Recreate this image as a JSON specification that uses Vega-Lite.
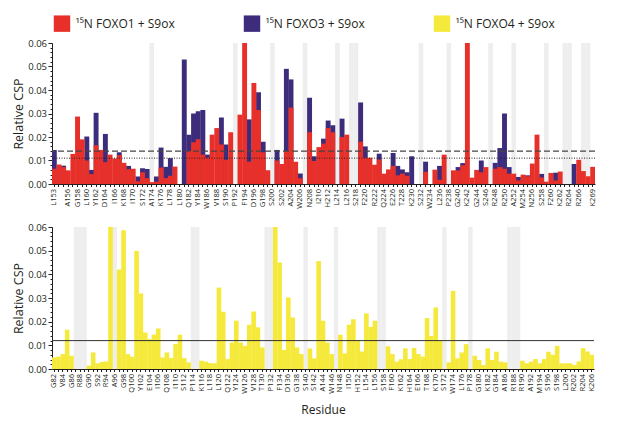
{
  "$schema": "https://vega.github.io/schema/vega-lite/v6.json",
  "padding": {"left": 12, "top": 15, "right": 5, "bottom": 5},
  "spacing": 13,
  "config": {
    "font": "Open Sans",
    "view": {"stroke": null},
    "axis": {
      "labelColor": "#231f20",
      "titleColor": "#231f20",
      "domainColor": "#231f20",
      "tickColor": "#231f20",
      "grid": false,
      "titleFontWeight": "normal"
    }
  },
  "resolve": {"scale": {"color": "independent"}, "legend": {"color": "independent"}},
  "datasets": {
    "foxo13": [
      {"name": "L153", "foxo1": 0.0065, "foxo3": 0.0145},
      {"name": "154", "foxo1": 0.0083, "foxo3": 0},
      {"name": "155", "foxo1": 0.0072, "foxo3": 0.0078},
      {"name": "A156", "foxo1": 0.0058, "foxo3": 0},
      {"name": "157", "foxo1": 0.0128, "foxo3": 0},
      {"name": "G158", "foxo1": 0.0287, "foxo3": 0},
      {"name": "159", "foxo1": 0.019, "foxo3": 0},
      {"name": "L160", "foxo1": 0.010, "foxo3": 0.0202},
      {"name": "161", "foxo1": 0.0042, "foxo3": 0.006},
      {"name": "Y162", "foxo1": 0.0165, "foxo3": 0.0303},
      {"name": "163", "foxo1": 0.0145, "foxo3": 0},
      {"name": "D164", "foxo1": 0.0093, "foxo3": 0.0213},
      {"name": "165", "foxo1": 0.0125, "foxo3": 0},
      {"name": "I166", "foxo1": 0.0108, "foxo3": 0},
      {"name": "167", "foxo1": 0.0123, "foxo3": 0.0135},
      {"name": "K168", "foxo1": 0.009, "foxo3": 0},
      {"name": "169", "foxo1": 0.0063, "foxo3": 0.0077},
      {"name": "I170", "foxo1": 0.0065, "foxo3": 0},
      {"name": "171", "foxo1": 0.0012, "foxo3": 0.0032},
      {"name": "S172", "foxo1": 0.005, "foxo3": 0.0067},
      {"name": "173", "foxo1": 0.0025, "foxo3": 0.0064},
      {"name": "A174", "foxo1": 0.0008, "foxo3": 0, "gap": true},
      {"name": "175", "foxo1": 0.001, "foxo3": 0.0032},
      {"name": "K176", "foxo1": 0.007, "foxo3": 0.0155},
      {"name": "177", "foxo1": 0.0025, "foxo3": 0.0073},
      {"name": "L178", "foxo1": 0.0035, "foxo3": 0.011},
      {"name": "179", "foxo1": 0.0074, "foxo3": 0},
      {"name": "L180", "foxo1": 0, "foxo3": 0},
      {"name": "181", "foxo1": 0, "foxo3": 0.053},
      {"name": "Q182", "foxo1": 0.014, "foxo3": 0.021},
      {"name": "183", "foxo1": 0.0178, "foxo3": 0.030},
      {"name": "Y184", "foxo1": 0.019, "foxo3": 0.031},
      {"name": "185", "foxo1": 0.0125, "foxo3": 0.0315},
      {"name": "W186", "foxo1": 0.0112, "foxo3": 0.0125},
      {"name": "187", "foxo1": 0.021, "foxo3": 0},
      {"name": "V188", "foxo1": 0.0238, "foxo3": 0},
      {"name": "189", "foxo1": 0.0168, "foxo3": 0.0283},
      {"name": "S190", "foxo1": 0.0103, "foxo3": 0.0168},
      {"name": "191", "foxo1": 0.022, "foxo3": 0},
      {"name": "P192", "foxo1": 0, "foxo3": 0, "gap": true},
      {"name": "193", "foxo1": 0.0295, "foxo3": 0},
      {"name": "F194", "foxo1": 0.065, "foxo3": 0},
      {"name": "195", "foxo1": 0.0095, "foxo3": 0.0275},
      {"name": "D196", "foxo1": 0.043, "foxo3": 0},
      {"name": "197", "foxo1": 0.0315, "foxo3": 0.039},
      {"name": "G198", "foxo1": 0.0135, "foxo3": 0.018},
      {"name": "199", "foxo1": 0.0058, "foxo3": 0},
      {"name": "S200", "foxo1": 0, "foxo3": 0, "gap": true},
      {"name": "201", "foxo1": 0.010, "foxo3": 0.0145},
      {"name": "S202", "foxo1": 0.0085, "foxo3": 0},
      {"name": "203", "foxo1": 0.014, "foxo3": 0.049},
      {"name": "A204", "foxo1": 0.0325, "foxo3": 0.0445},
      {"name": "205", "foxo1": 0.0095, "foxo3": 0},
      {"name": "W206", "foxo1": 0.0025, "foxo3": 0.0045},
      {"name": "207", "foxo1": 0, "foxo3": 0, "gap": true},
      {"name": "N208", "foxo1": 0.022, "foxo3": 0.0367},
      {"name": "209", "foxo1": 0.0098, "foxo3": 0.0118},
      {"name": "I210", "foxo1": 0.0157, "foxo3": 0},
      {"name": "211", "foxo1": 0.0172, "foxo3": 0.0193},
      {"name": "H212", "foxo1": 0.0238, "foxo3": 0.027},
      {"name": "213", "foxo1": 0.022, "foxo3": 0.025},
      {"name": "L214", "foxo1": 0, "foxo3": 0, "gap": true},
      {"name": "215", "foxo1": 0.020, "foxo3": 0.0278},
      {"name": "L216", "foxo1": 0.021, "foxo3": 0},
      {"name": "217", "foxo1": 0, "foxo3": 0, "gap": true},
      {"name": "S218", "foxo1": 0, "foxo3": 0, "gap": true},
      {"name": "219", "foxo1": 0.018, "foxo3": 0.0347},
      {"name": "F220", "foxo1": 0.0112, "foxo3": 0.016},
      {"name": "221", "foxo1": 0.0112, "foxo3": 0},
      {"name": "R222", "foxo1": 0.0082, "foxo3": 0},
      {"name": "223", "foxo1": 0.0104, "foxo3": 0.0129},
      {"name": "Q224", "foxo1": 0.0044, "foxo3": 0},
      {"name": "225", "foxo1": 0.0062, "foxo3": 0},
      {"name": "E226", "foxo1": 0.0077, "foxo3": 0.0132},
      {"name": "227", "foxo1": 0.0037, "foxo3": 0.0077},
      {"name": "T228", "foxo1": 0.0044, "foxo3": 0.0062},
      {"name": "229", "foxo1": 0.0035, "foxo3": 0.005},
      {"name": "K230", "foxo1": 0, "foxo3": 0.0118},
      {"name": "231", "foxo1": 0, "foxo3": 0},
      {"name": "S232", "foxo1": 0, "foxo3": 0, "gap": true},
      {"name": "233", "foxo1": 0.0052, "foxo3": 0.0095},
      {"name": "W234", "foxo1": 0, "foxo3": 0},
      {"name": "235", "foxo1": 0.0061, "foxo3": 0},
      {"name": "L236", "foxo1": 0.0018, "foxo3": 0.0077},
      {"name": "237", "foxo1": 0.0125, "foxo3": 0},
      {"name": "P238", "foxo1": 0, "foxo3": 0, "gap": true},
      {"name": "239", "foxo1": 0.0058, "foxo3": 0},
      {"name": "G240", "foxo1": 0.0058, "foxo3": 0.0072},
      {"name": "241", "foxo1": 0.008, "foxo3": 0.0089},
      {"name": "K242", "foxo1": 0.065, "foxo3": 0},
      {"name": "243", "foxo1": 0.0027, "foxo3": 0},
      {"name": "G244", "foxo1": 0.006, "foxo3": 0},
      {"name": "245", "foxo1": 0.005, "foxo3": 0.010},
      {"name": "S246", "foxo1": 0.0072, "foxo3": 0},
      {"name": "247", "foxo1": 0, "foxo3": 0, "gap": true},
      {"name": "R248", "foxo1": 0.0065, "foxo3": 0.009},
      {"name": "249", "foxo1": 0.0072, "foxo3": 0.0153},
      {"name": "R250", "foxo1": 0.0065, "foxo3": 0.030},
      {"name": "251", "foxo1": 0.0044, "foxo3": 0.0072},
      {"name": "A252", "foxo1": 0.0044, "foxo3": 0, "gap": true},
      {"name": "253", "foxo1": 0.0015, "foxo3": 0.003},
      {"name": "M254", "foxo1": 0.004, "foxo3": 0},
      {"name": "255", "foxo1": 0.0033, "foxo3": 0.0037},
      {"name": "N256", "foxo1": 0.0087, "foxo3": 0},
      {"name": "257", "foxo1": 0.021, "foxo3": 0},
      {"name": "S258", "foxo1": 0.0028, "foxo3": 0.0043},
      {"name": "259", "foxo1": 0.001, "foxo3": 0, "gap": true},
      {"name": "F260", "foxo1": 0.0047, "foxo3": 0},
      {"name": "261", "foxo1": 0.0015, "foxo3": 0.0048},
      {"name": "K262", "foxo1": 0.0053, "foxo3": 0},
      {"name": "263", "foxo1": 0, "foxo3": 0, "gap": true},
      {"name": "R264", "foxo1": 0, "foxo3": 0, "gap": true},
      {"name": "265", "foxo1": 0, "foxo3": 0.0085},
      {"name": "R266", "foxo1": 0.0103, "foxo3": 0},
      {"name": "267", "foxo1": 0.0055, "foxo3": 0, "gap": true},
      {"name": "268", "foxo1": 0.0033, "foxo3": 0, "gap": true},
      {"name": "K269", "foxo1": 0.0073, "foxo3": 0}
    ],
    "foxo4": [
      {"name": "G82", "csp": 0.0049},
      {"name": "83", "csp": 0.0052},
      {"name": "V84", "csp": 0.0063},
      {"name": "85", "csp": 0.0166},
      {"name": "G86", "csp": 0.0056},
      {"name": "87", "csp": 0, "gap": true},
      {"name": "R88", "csp": 0, "gap": true},
      {"name": "89", "csp": 0, "gap": true},
      {"name": "G90", "csp": 0.0014},
      {"name": "91", "csp": 0.007},
      {"name": "S92", "csp": 0.0024},
      {"name": "93", "csp": 0.003},
      {"name": "R94", "csp": 0.0032},
      {"name": "95", "csp": 0.065},
      {"name": "A96", "csp": 0, "gap": true},
      {"name": "97", "csp": 0.042},
      {"name": "G98", "csp": 0.0586},
      {"name": "99", "csp": 0.0063},
      {"name": "Q100", "csp": 0.0052},
      {"name": "101", "csp": 0.0499},
      {"name": "Y102", "csp": 0.0319},
      {"name": "103", "csp": 0.0154},
      {"name": "E104", "csp": 0.0126},
      {"name": "105", "csp": 0.0145},
      {"name": "I106", "csp": 0.0171},
      {"name": "107", "csp": 0.0049},
      {"name": "Q108", "csp": 0.007},
      {"name": "109", "csp": 0.0046},
      {"name": "I110", "csp": 0.0105},
      {"name": "111", "csp": 0.0145},
      {"name": "S112", "csp": 0.0046},
      {"name": "113", "csp": 0.0028},
      {"name": "P114", "csp": 0, "gap": true},
      {"name": "115", "csp": 0, "gap": true},
      {"name": "K116", "csp": 0.0035},
      {"name": "117", "csp": 0.0031},
      {"name": "L118", "csp": 0.0025},
      {"name": "119", "csp": 0.0024},
      {"name": "L120", "csp": 0.0344},
      {"name": "121", "csp": 0.0242},
      {"name": "Q122", "csp": 0.0042},
      {"name": "123", "csp": 0.0112},
      {"name": "Y124", "csp": 0.0204},
      {"name": "125", "csp": 0.0112},
      {"name": "W126", "csp": 0.0098},
      {"name": "127", "csp": 0.0187},
      {"name": "V128", "csp": 0.0243},
      {"name": "129", "csp": 0.0176},
      {"name": "T130", "csp": 0.0091},
      {"name": "131", "csp": 0, "gap": true},
      {"name": "P132", "csp": 0, "gap": true},
      {"name": "133", "csp": 0.065},
      {"name": "F134", "csp": 0.045},
      {"name": "135", "csp": 0.008},
      {"name": "D136", "csp": 0.0302},
      {"name": "137", "csp": 0.0218},
      {"name": "G138", "csp": 0.0091},
      {"name": "139", "csp": 0.0063},
      {"name": "S140", "csp": 0, "gap": true},
      {"name": "141", "csp": 0.0087},
      {"name": "S142", "csp": 0.0045},
      {"name": "143", "csp": 0.0456},
      {"name": "A144", "csp": 0.0204},
      {"name": "145", "csp": 0.0112},
      {"name": "W146", "csp": 0.0063},
      {"name": "147", "csp": 0, "gap": true},
      {"name": "N148", "csp": 0.0145},
      {"name": "149", "csp": 0.0066},
      {"name": "I150", "csp": 0.0187},
      {"name": "151", "csp": 0.021},
      {"name": "H152", "csp": 0.012},
      {"name": "153", "csp": 0.0074},
      {"name": "L154", "csp": 0.0235},
      {"name": "155", "csp": 0.0178},
      {"name": "L156", "csp": 0.0204},
      {"name": "157", "csp": 0, "gap": true},
      {"name": "S158", "csp": 0, "gap": true},
      {"name": "159", "csp": 0.0096},
      {"name": "F160", "csp": 0.0063},
      {"name": "161", "csp": 0.0031},
      {"name": "K162", "csp": 0.0041},
      {"name": "163", "csp": 0.0087},
      {"name": "H164", "csp": 0.0042},
      {"name": "165", "csp": 0.0089},
      {"name": "E166", "csp": 0.0063},
      {"name": "167", "csp": 0.0052},
      {"name": "T168", "csp": 0.0215},
      {"name": "169", "csp": 0.014},
      {"name": "K170", "csp": 0.026},
      {"name": "171", "csp": 0.012},
      {"name": "S172", "csp": 0, "gap": true},
      {"name": "173", "csp": 0.0028},
      {"name": "W174", "csp": 0.033},
      {"name": "175", "csp": 0.0045},
      {"name": "L176", "csp": 0.007},
      {"name": "177", "csp": 0.0105},
      {"name": "P178", "csp": 0, "gap": true},
      {"name": "179", "csp": 0.0056},
      {"name": "G180", "csp": 0.0038},
      {"name": "181", "csp": 0.0017},
      {"name": "K182", "csp": 0.0087},
      {"name": "183", "csp": 0.0038},
      {"name": "G184", "csp": 0.0073},
      {"name": "185", "csp": 0.0031},
      {"name": "A186", "csp": 0.0028},
      {"name": "187", "csp": 0, "gap": true},
      {"name": "R188", "csp": 0, "gap": true},
      {"name": "189", "csp": 0, "gap": true},
      {"name": "R190", "csp": 0.0035},
      {"name": "191", "csp": 0.0024},
      {"name": "A192", "csp": 0.0031},
      {"name": "193", "csp": 0.0042},
      {"name": "M194", "csp": 0.0024},
      {"name": "195", "csp": 0.0042},
      {"name": "S196", "csp": 0.0073},
      {"name": "197", "csp": 0.006},
      {"name": "S198", "csp": 0.0098},
      {"name": "199", "csp": 0.0024},
      {"name": "L200", "csp": 0.0024},
      {"name": "201", "csp": 0.0024},
      {"name": "R202", "csp": 0.0017},
      {"name": "203", "csp": 0.0032},
      {"name": "R204", "csp": 0.0088},
      {"name": "205", "csp": 0.0074},
      {"name": "K206", "csp": 0.006}
    ]
  },
  "vconcat": [
    {
      "width": 543,
      "height": 141,
      "resolve": {"axis": {"y": "independent"}},
      "layer": [
        {
          "data": {"name": "foxo13"},
          "mark": {"type": "bar", "color": "#eeeeee"},
          "encoding": {
            "x": {"field": "name", "type": "ordinal", "sort": null,
              "scale": {"paddingInner": 0, "paddingOuter": 0},
              "axis": {"title": null, "labelAngle": -90, "labelFontSize": 7.5, "labelPadding": 2,
                "tickSize": 2.5, "labelOverlap": false,
                "labelExpr": "isNaN(+datum.label) ? datum.label : ''"}},
            "y": {"datum": 0.06, "type": "quantitative",
              "axis": {"orient": "left", "title": null, "labels": false, "domain": false, "tickSize": 2,
                "values": [0.002, 0.004, 0.006, 0.008, 0.012, 0.014, 0.016, 0.018, 0.022, 0.024, 0.026, 0.028, 0.032, 0.034, 0.036, 0.038, 0.042, 0.044, 0.046, 0.048, 0.052, 0.054, 0.056, 0.058]}},
            "opacity": {"condition": {"test": "datum.gap", "value": 1}, "value": 0}
          }
        },
        {
          "data": {"name": "foxo13"},
          "mark": {"type": "bar", "clip": true, "width": {"band": 1.06}},
          "encoding": {
            "x": {"field": "name", "type": "ordinal", "sort": null},
            "y": {"field": "foxo3", "type": "quantitative",
              "scale": {"domain": [0, 0.06], "nice": false},
              "axis": {"orient": "left", "title": "Relative CSP", "titleFontSize": 12.5, "labelFontSize": 9.5,
                "values": [0, 0.01, 0.02, 0.03, 0.04, 0.05, 0.06], "format": ".2f", "tickSize": 4,
                "labelPadding": 1.5, "titlePadding": 2}},
            "color": {"datum": "¹⁵N FOXO3 + S9ox",
              "scale": {"domain": ["¹⁵N FOXO1 + S9ox", "¹⁵N FOXO3 + S9ox", "¹⁵N FOXO4 + S9ox"],
                "range": ["#e8302a", "#3c2c7b", "#f5e93b"]},
              "legend": {"title": null, "orient": "none", "legendX": 1.5, "legendY": -28, "padding": 0,
                "direction": "horizontal", "gridAlign": "all", "symbolType": "square", "symbolSize": 270,
                "symbolStrokeWidth": 0, "symbolOpacity": 1, "labelFontSize": 12,
                "labelColor": "#231f20", "labelOffset": 5, "columnPadding": 68}}
          }
        },
        {
          "data": {"name": "foxo13"},
          "mark": {"type": "bar", "clip": true, "width": {"band": 1.06}},
          "encoding": {
            "x": {"field": "name", "type": "ordinal", "sort": null},
            "y": {"field": "foxo1", "type": "quantitative", "axis": null},
            "color": {"datum": "¹⁵N FOXO1 + S9ox"}
          }
        },
        {
          "data": {"values": [{"csp": 0.014}]},
          "mark": {"type": "rule", "color": "#444", "strokeDash": [6, 3], "strokeWidth": 1.1},
          "encoding": {"y": {"field": "csp", "type": "quantitative", "axis": null}}
        },
        {
          "data": {"values": [{"csp": 0.011}]},
          "mark": {"type": "rule", "color": "#222", "strokeDash": [1, 1.5], "strokeWidth": 1},
          "encoding": {"y": {"field": "csp", "type": "quantitative", "axis": null}}
        }
      ]
    },
    {
      "width": 542,
      "height": 142,
      "resolve": {"axis": {"y": "independent"}},
      "layer": [
        {
          "data": {"name": "foxo4"},
          "mark": {"type": "bar", "color": "#eeeeee"},
          "encoding": {
            "x": {"field": "name", "type": "ordinal", "sort": null,
              "scale": {"paddingInner": 0, "paddingOuter": 0},
              "axis": {"title": "Residue", "titleFontSize": 12, "titlePadding": 11, "labelAngle": -90,
                "labelFontSize": 7.5, "labelPadding": 2, "tickSize": 2.5, "labelOverlap": false,
                "labelExpr": "isNaN(+datum.label) ? datum.label : ''"}},
            "y": {"datum": 0.06, "type": "quantitative",
              "axis": {"orient": "left", "title": null, "labels": false, "domain": false, "tickSize": 2,
                "values": [0.002, 0.004, 0.006, 0.008, 0.012, 0.014, 0.016, 0.018, 0.022, 0.024, 0.026, 0.028, 0.032, 0.034, 0.036, 0.038, 0.042, 0.044, 0.046, 0.048, 0.052, 0.054, 0.056, 0.058]}},
            "opacity": {"condition": {"test": "datum.gap", "value": 1}, "value": 0}
          }
        },
        {
          "data": {"name": "foxo4"},
          "mark": {"type": "bar", "clip": true, "color": "#f5e93b", "width": {"band": 1.06}},
          "encoding": {
            "x": {"field": "name", "type": "ordinal", "sort": null},
            "y": {"field": "csp", "type": "quantitative",
              "scale": {"domain": [0, 0.06], "nice": false},
              "axis": {"orient": "left", "title": "Relative CSP", "titleFontSize": 12.5, "labelFontSize": 9.5,
                "values": [0, 0.01, 0.02, 0.03, 0.04, 0.05, 0.06], "format": ".2f", "tickSize": 4,
                "labelPadding": 1.5, "titlePadding": 2}}
          }
        },
        {
          "data": {"values": [{"csp": 0.012}]},
          "mark": {"type": "rule", "color": "#333", "strokeWidth": 1},
          "encoding": {"y": {"field": "csp", "type": "quantitative", "axis": null}}
        }
      ]
    }
  ]
}
